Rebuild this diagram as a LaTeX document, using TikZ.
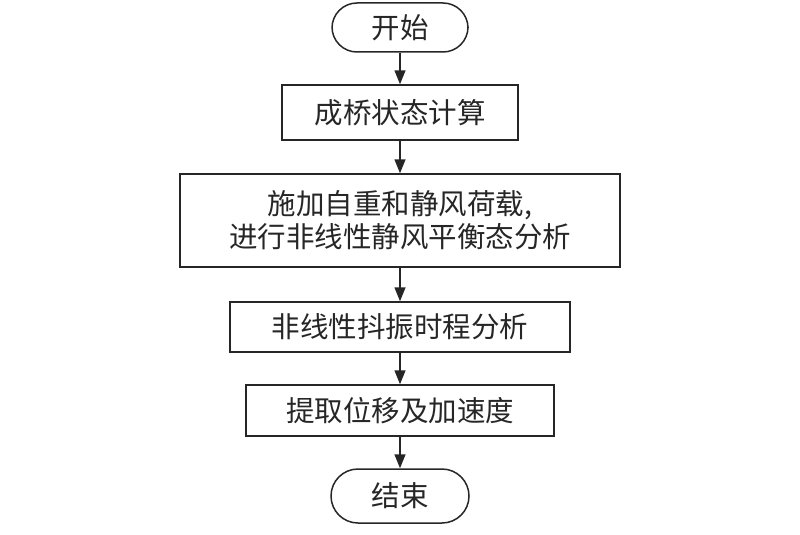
\documentclass[tikz,border=0pt]{standalone}
\usepackage{fontspec}
\setmainfont{Noto Sans CJK SC}
\usetikzlibrary{arrows.meta}
\begin{document}
\begin{tikzpicture}[x=1pt,y=-1pt,
  base/.style={draw=black!85,line width=1.5pt,inner sep=0pt,align=center,
    font=\fontsize{28.5}{33}\selectfont,text=black!85},
  proc/.style={base,rectangle},
  term/.style={base,rectangle,rounded corners=25pt},
  arr/.style={draw=black!85,line width=1.5pt,-{Triangle[length=14pt,width=11pt]}}]
\useasboundingbox (0,0) rectangle (800,535);
\node[term,minimum width=136pt,minimum height=49pt] (s) at (400,27.5) {开始};
\node[proc,minimum width=236pt,minimum height=55pt] (b1) at (400,112.5) {成桥状态计算};
\node[proc,minimum width=440pt,minimum height=93pt] (b2) at (400,220.5) {施加自重和静风荷载,\\进行非线性静风平衡态分析};
\node[proc,minimum width=340pt,minimum height=50pt] (b3) at (400,327) {非线性抖振时程分析};
\node[proc,minimum width=308pt,minimum height=51pt] (b4) at (400,410.5) {提取位移及加速度};
\node[term,minimum width=138pt,minimum height=54pt,rounded corners=27pt] (e) at (400,496) {结束};
\draw[arr] (s) -- (b1);
\draw[arr] (b1) -- (b2);
\draw[arr] (b2) -- (b3);
\draw[arr] (b3) -- (b4);
\draw[arr] (b4) -- (e);
\end{tikzpicture}
\end{document}
